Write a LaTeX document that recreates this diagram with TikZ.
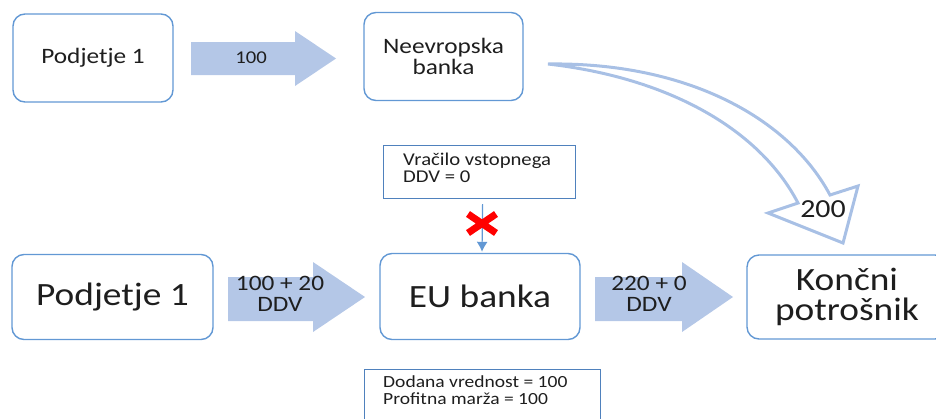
\documentclass[tikz,border=0pt]{standalone}
\usepackage{fontspec}
\setmainfont{Carlito}[FakeStretch=1.15]
\usepackage{xcolor}
\usetikzlibrary{positioning,calc,arrows.meta}

\definecolor{boxline}{RGB}{98,152,212}
\definecolor{infoline}{RGB}{79,129,189}
\definecolor{flowfill}{RGB}{180,199,231}
\definecolor{flowline}{RGB}{168,192,229}
\definecolor{txt}{RGB}{30,30,30}

\tikzset{
  bank/.style={draw=boxline, line width=1.4pt, rounded corners=12pt, inner sep=0pt, align=center, text=txt},
  infobox/.style={draw=infoline, line width=1.2pt},
  smalltext/.style={font=\fontsize{22}{20.5}\selectfont},
  bigtext/.style={font=\fontsize{32.5}{29.5}\selectfont},
  flowtext/.style={font=\fontsize{22}{20.5}\selectfont, text=txt, align=center, inner sep=0pt},
  notetext/.style={text=txt, align=left, inner sep=0pt},
  flow/.style={fill=flowfill},
}

\begin{document}
\begin{tikzpicture}[x=1pt, y=-1pt]
    \useasboundingbox (0,0) rectangle (936,418);

    % top row
    \node[bank, smalltext, minimum width=160, minimum height=88] (firmtop) at (93,58) {Podjetje 1};
    \node[bank, smalltext, minimum width=159, minimum height=88] (nonEU) at (443.5,56.5) {Neevropska\\banka};

    \fill[flow] (191,42) -- (295,42) -- (295,31) -- (336,58.5) -- (295,86) -- (295,75) -- (191,75) -- cycle;
    \node[flowtext, font=\fontsize{18}{18}\selectfont] (val100) at (251,58) {100};

    % curved arrow to the end consumer
    \coordinate (tail) at (548,64);
    \draw[draw=flowline, line width=3pt, line join=miter]
        (tail) .. controls (690,62) and (790,120) .. (830,195)
        -- (858,186) -- (843,243) -- (768,213) -- (798,203)
        .. controls (760,130) and (670,78) .. (tail) -- cycle;
    \node[flowtext, font=\fontsize{26}{26}\selectfont] (val200) at (823,209) {200};

    % refund box
    \node[infobox, minimum width=192, minimum height=53, anchor=north west] (refund) at (383,145) {};
    \node[notetext, font=\fontsize{18}{17}\selectfont, anchor=north west] (refundtxt) at (403,152.5) {Vračilo vstopnega\\DDV = 0};

    % bottom row
    \node[bank, bigtext, minimum width=201, minimum height=85] (firm) at (112.5,297) {Podjetje 1};
    \node[bank, bigtext, minimum width=200, minimum height=86] (eu) at (480,296.5) {EU banka};
    \node[bank, bigtext, minimum width=200, minimum height=84] (end) at (847,297) {Končni\\potrošnik};

    \fill[flow] (228,277) -- (313,277) -- (313,262) -- (365,297) -- (313,332) -- (313,321) -- (228,321) -- cycle;
    \node[flowtext] (vat1) at (280,294) {100 + 20\\DDV};
    \fill[flow] (595,277) -- (682,277) -- (682,262) -- (733,297) -- (682,332) -- (682,321) -- (595,321) -- cycle;
    \node[flowtext] (vat2) at (649,294) {220 + 0\\DDV};

    % blocked refund
    \draw[draw=boxline, line width=1.2pt, -{Latex[length=10pt,width=11pt]}]
        ([xshift=3pt,yshift=-5pt]refund.south) -- ([xshift=2pt,yshift=1pt]eu.north);
    \coordinate (xmark) at (482,223.5);
    \draw[red, line width=7pt] ($(xmark)+(-14,-9.5)$) -- ($(xmark)+(14,9.5)$)
        ($(xmark)+(-14,9.5)$) -- ($(xmark)+(14,-9.5)$);

    % margin box
    \node[infobox, minimum width=236, minimum height=70, anchor=north west] (margin) at (364,369) {};
    \node[notetext, font=\fontsize{17}{17}\selectfont, anchor=north west] (margintxt) at (383,375) {Dodana vrednost = 100\\Profitna marža = 100};
\end{tikzpicture}
\end{document}
